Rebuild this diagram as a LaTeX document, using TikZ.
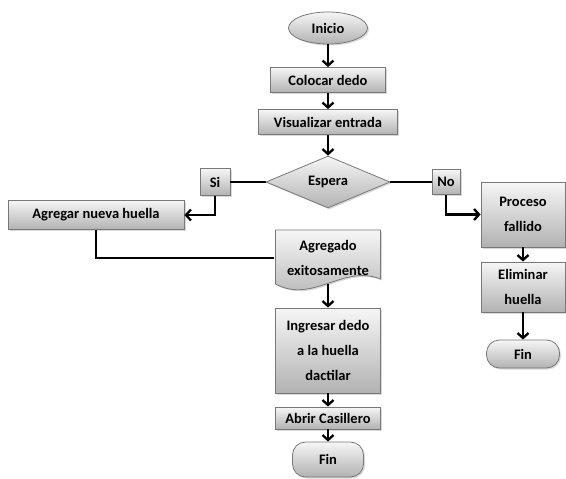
\documentclass[tikz,border=0pt]{standalone}
\usepackage{fontspec}
\setmainfont{Carlito}
\usepackage{tikz}
\usetikzlibrary{arrows.meta,shapes.geometric,shadows}
\definecolor{box_line}{RGB}{120,120,120}
\definecolor{shade_top}{RGB}{246,246,246}
\definecolor{shade_bot}{RGB}{178,178,178}

\begin{document}
\begin{tikzpicture}[x=1pt,y=-1pt,->,line width=2.3pt,>={Straight Barb[length=5pt,width=11pt]}]
    \tikzstyle{fill_gray}=[draw=box_line, line width=0.8pt, top color=shade_top, bottom color=shade_bot,
      drop shadow={shadow xshift=1.5pt,shadow yshift=-1.5pt,opacity=0.3}]
    \tikzstyle{txt}=[font=\fontsize{14.5}{25}\selectfont\bfseries, align=center, text=black, inner sep=0pt]
    \tikzstyle{box}=[fill_gray, txt, rectangle]
    \tikzstyle{oval}=[fill_gray, txt, ellipse, minimum width=79pt, minimum height=32pt]
    \tikzstyle{rhombus}=[fill_gray, txt, diamond, aspect=2.4, minimum width=124pt, minimum height=52pt]
    \tikzstyle{terminal}=[fill_gray, txt, rectangle, rounded corners=13pt, minimum height=35pt]

    \useasboundingbox (0,0) rectangle (566,479);

    % main column
    \node[oval] (inicio) at (328,28) {Inicio};
    \node[box, minimum width=115pt, minimum height=25pt] (colocar) at (328,80) {Colocar dedo};
    \node[box, minimum width=139pt, minimum height=25pt] (visual) at (328,122) {Visualizar entrada};
    \node[rhombus] (espera) at (328,182) {Espera};
    \node[box, minimum width=30pt, minimum height=27pt] (si) at (215,182) {Si};
    \node[box, minimum width=28pt, minimum height=25pt] (no) at (446,182) {No};
    \node[box, minimum width=176pt, minimum height=29pt] (agregar) at (96,215) {Agregar nueva huella};

    % document shape with wavy bottom
    \path[-, fill_gray] (275.5,230) -- (380.5,230) -- (380.5,279)
      .. controls (343,264) and (313,304) .. (275.5,284) -- cycle;
    \node[txt, minimum width=105pt, minimum height=56pt] (agregado) at (328,258) {Agregado\\exitosamente};
    \coordinate (agregado_base) at (328,284);

    \node[box, minimum width=105pt, minimum height=85pt] (ingresar) at (328,350.5) {Ingresar dedo\\a la huella\\dactilar};
    \node[box, minimum width=105pt, minimum height=22pt] (abrir) at (328,418) {Abrir Casillero};
    \node[terminal, minimum width=71pt] (fin) at (328,459.5) {Fin};

    % right branch
    \node[box, minimum width=84pt, minimum height=65pt] (proceso) at (523,214.5) {Proceso\\fallido};
    \node[box, minimum width=84pt, minimum height=50pt] (eliminar) at (523,287) {Eliminar\\huella};
    \node[terminal, minimum width=73pt, minimum height=28pt] (finb) at (523,354) {Fin};

    \path
     (inicio) edge (colocar)
     (colocar) edge (visual)
     (visual) edge (espera)
     (espera) edge[-] (si)
     (espera) edge[-] (no)
     (agregado_base) edge (ingresar)
     (ingresar) edge (abrir)
     (abrir) edge (fin)
     (proceso) edge (eliminar)
     (eliminar) edge (finb)
     ;
    \draw (si.south) |- (agregar.east);
    \draw (no.south) |- (proceso.west);
    \draw[-] (agregar.south) |- (agregado.west);
\end{tikzpicture}
\end{document}
